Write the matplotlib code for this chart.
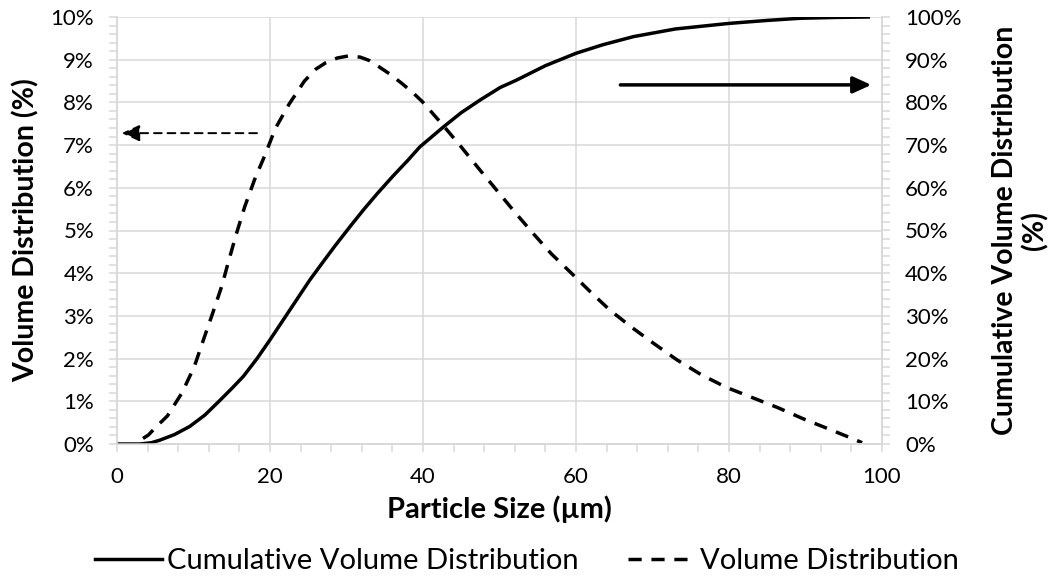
import matplotlib.pyplot as plt
import numpy as np
from matplotlib.ticker import PercentFormatter, MultipleLocator

plt.rcParams['font.family'] = ['Lato', 'DejaVu Sans']

# volume distribution (left axis, %)
vol_x = [3.4, 4.1, 5.0, 6.6, 8.5, 10.1, 11.3, 12.5, 13.7, 14.6, 15.6, 16.7, 18.0, 19.35,
         20.7, 22.5, 24.5, 26.0, 27.3, 28.8, 30.3, 31.8, 33.0, 34.2, 35.7, 37.2, 38.6,
         39.9, 42.4, 44.8, 47.2, 49.6, 52.0, 54.4, 56.8, 59.4, 61.9, 64.4, 67.3, 70.2,
         73.2, 76.3, 79.6, 83.0, 86.4, 89.7, 93.2, 96.5, 97.4]
vol_y = [0.13, 0.21, 0.38, 0.66, 1.20, 1.81, 2.44, 3.06, 3.70, 4.29, 4.92, 5.56, 6.20, 6.77,
         7.39, 7.96, 8.50, 8.78, 8.93, 9.04, 9.09, 9.06, 8.98, 8.84, 8.66, 8.45, 8.24,
         8.02, 7.51, 7.00, 6.47, 5.95, 5.43, 4.93, 4.45, 4.00, 3.56, 3.14, 2.73, 2.35,
         1.97, 1.63, 1.33, 1.09, 0.85, 0.59, 0.34, 0.10, 0.03]

# cumulative volume distribution (right axis, %)
cum_x = [0, 3, 4.5, 5.6, 7.5, 9.5, 11.5, 13.5, 15, 16.5, 18.3, 20, 22.6, 25.2, 27, 28.5,
         30.5, 32.2, 34, 36, 38, 39.6, 42.7, 45, 47.5, 50.1, 52.2, 56, 60, 63.5, 67.5,
         73, 80, 85, 89.3, 94, 98.2]
cum_y = [0, 0, 0.3, 0.9, 2.2, 4.1, 6.8, 10.3, 13.0, 15.8, 20.0, 24.4, 31.4, 38.4, 42.8, 46.4,
         51.0, 54.8, 58.6, 62.6, 66.4, 69.6, 74.3, 77.6, 80.6, 83.5, 85.2, 88.6, 91.5, 93.5, 95.4,
         97.2, 98.5, 99.2, 99.7, 99.9, 100]

# annotation arrows
left_arrow = dict(start=(18.3, 7.28), end=(0.6, 7.28))      # left axis units
right_arrow = dict(start=(65.8, 84.1), end=(98.6, 84.1))    # right axis units

grey = '#d9d9d9'

fig = plt.figure(figsize=(10.58, 5.81), dpi=100)
ax = fig.add_axes([117/1058, 1-444/581, (882-117)/1058, (444-17)/581])
ax2 = ax.twinx()

ax.set_xlim(0, 100)
ax.set_ylim(0, 10)
ax2.set_ylim(0, 100)

ax.xaxis.set_major_locator(MultipleLocator(20))
ax.xaxis.set_minor_locator(MultipleLocator(4))
ax.yaxis.set_major_locator(MultipleLocator(1))
ax.yaxis.set_minor_locator(MultipleLocator(0.2))
ax2.yaxis.set_major_locator(MultipleLocator(10))
ax2.yaxis.set_minor_locator(MultipleLocator(2))
ax.yaxis.set_major_formatter(PercentFormatter(decimals=0))
ax2.yaxis.set_major_formatter(PercentFormatter(decimals=0))

ax.grid(True, which='major', color=grey, lw=1.1)
ax.set_axisbelow(True)

for a in (ax, ax2):
    for s in a.spines.values():
        s.set_color(grey)
        s.set_linewidth(1.1)
    a.spines['top'].set_visible(False)
    a.tick_params(which='both', color=grey, width=1.1, length=5.5, direction='out',
                  labelsize=16, labelcolor='black')
ax.tick_params(axis='y', pad=11)
ax.tick_params(axis='x', pad=11)
ax2.tick_params(axis='y', pad=11)

ax.plot(vol_x, vol_y, color='black', lw=2.5, dashes=(3.8, 2.8), label='Volume Distribution')
ax2.plot(cum_x, cum_y, color='black', lw=2.5, solid_joinstyle='round',
         label='Cumulative Volume Distribution')

ax.annotate('', xy=left_arrow['end'], xytext=left_arrow['start'],
            arrowprops=dict(arrowstyle='-|>,head_length=1.1,head_width=0.5', color='black',
                            lw=1.4, linestyle=(0, (4, 3)), shrinkA=0, shrinkB=0))
ax2.annotate('', xy=right_arrow['end'], xytext=right_arrow['start'],
             arrowprops=dict(arrowstyle='-|>,head_length=1.1,head_width=0.5', color='black',
                             lw=2.5, shrinkA=0, shrinkB=0))

ax.set_xlabel('Particle Size (µm)', fontsize=21, fontweight='bold', labelpad=6)
ax.set_ylabel('Volume Distribution (%)', fontsize=20.5, fontweight='bold', labelpad=8)
ax2.set_ylabel('Cumulative Volume Distribution\n(%)', fontsize=20.5, fontweight='bold',
               labelpad=22, linespacing=1.15)

h2, l2 = ax2.get_legend_handles_labels()
h1, l1 = ax.get_legend_handles_labels()
fig.legend(h2 + h1, l2 + l1, loc='center', bbox_to_anchor=(0.498, 1-561/581), ncol=2,
           frameon=False, fontsize=21, handlelength=2.3, handletextpad=0.15,
           columnspacing=1.7)

fig.savefig('out.png', dpi=100)
